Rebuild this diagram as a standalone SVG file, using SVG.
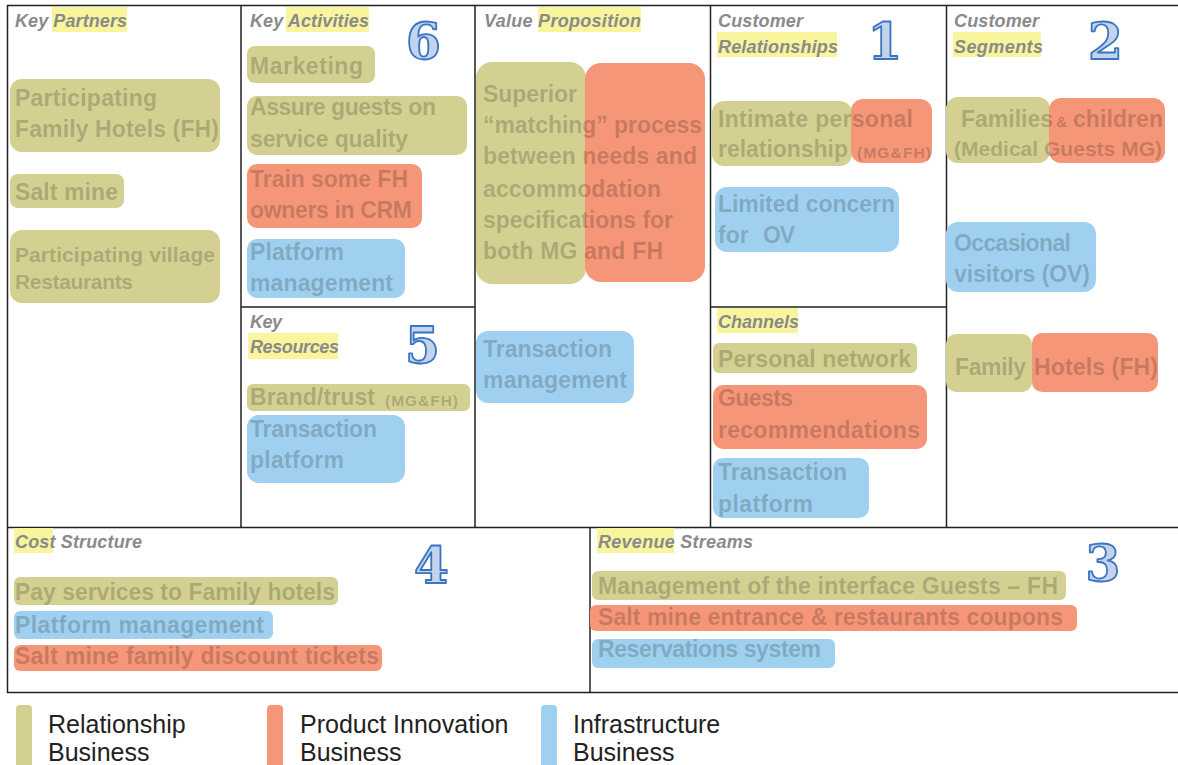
<svg xmlns="http://www.w3.org/2000/svg" width="1178" height="765" viewBox="0 0 1178 765">
  <style>
    .ttl { font-family: "Liberation Sans", Arial, sans-serif; font-style: italic; font-weight: bold; font-size: 18px; fill: #8a8a8a; }
    .bx { font-family: "Liberation Sans", Arial, sans-serif; font-weight: bold; font-size: 23px; fill: #000; fill-opacity: 0.2; }
    .sm { font-size: 15.5px; }
    .md { font-size: 21px; }
    .num { font-family: "DejaVu Serif", "Liberation Serif", serif; font-weight: bold; font-size: 50px; fill: #c3d3ec; stroke: #3a75c0; stroke-width: 1.8; stroke-linejoin: round; text-anchor: middle; }
    .lg { font-family: "Liberation Sans", Arial, sans-serif; font-size: 25px; fill: #222; }
    .hl { fill: #f8f59d; }
    .o { fill: #d3d092; }
    .r { fill: #f59678; }
    .b { fill: #9fd0ef; }
    .ln { stroke: #222; stroke-width: 1.5; fill: none; }
  </style>

  <rect width="1178" height="765" fill="#fff"/>

  <!-- canvas grid -->
  <g id="grid" class="ln">
    <path d="M7 5.5 H1178"/>
    <path d="M7.5 5 V693"/>
    <path d="M241 5 V527.5 M475 5 V527.5 M710.5 5 V527.5 M946.5 5 V527.5"/>
    <path d="M241 307 H475 M710.5 307 H946.5"/>
    <path d="M7 527.5 H1178"/>
    <path d="M7 692.5 H1178"/>
    <path d="M590 527.5 V692.5"/>
  </g>

  <!-- Key Partners -->
  <g id="key-partners">
    <rect class="hl" x="52" y="7" width="75" height="25"/>
    <text class="ttl" x="15" y="27" textLength="112">Key Partners</text>
    <rect class="o" x="10" y="79" width="210" height="73" rx="12"/>
    <text class="bx" x="15" y="106" textLength="142">Participating</text>
    <text class="bx" x="15" y="137" textLength="204">Family Hotels (FH)</text>
    <rect class="o" x="10" y="174" width="114" height="34" rx="8"/>
    <text class="bx" x="15" y="200" textLength="103">Salt mine</text>
    <rect class="o" x="10" y="230" width="210" height="73" rx="12"/>
    <text class="bx md" x="15" y="262" textLength="200">Participating village</text>
    <text class="bx md" x="15" y="289" textLength="118">Restaurants</text>
  </g>

  <!-- Key Activities -->
  <g id="key-activities">
    <rect class="hl" x="286" y="7" width="83" height="25"/>
    <text class="ttl" x="250" y="27" textLength="119">Key Activities</text>
    <text class="num" x="423.5" y="59">6</text>
    <rect class="o" x="247" y="46" width="128" height="37" rx="8"/>
    <text class="bx" x="250" y="74" textLength="113">Marketing</text>
    <rect class="o" x="247" y="96" width="220" height="59" rx="10"/>
    <text class="bx" x="250" y="115" textLength="186">Assure guests on</text>
    <text class="bx" x="250" y="147" textLength="158">service quality</text>
    <rect class="r" x="247" y="164" width="175" height="64" rx="10"/>
    <text class="bx" x="250" y="187" textLength="158">Train some FH</text>
    <text class="bx" x="250" y="218" textLength="162">owners in CRM</text>
    <rect class="b" x="247" y="239" width="158" height="59" rx="10"/>
    <text class="bx" x="250" y="260" textLength="94">Platform</text>
    <text class="bx" x="250" y="291" textLength="143">management</text>
  </g>

  <!-- Key Resources -->
  <g id="key-resources">
    <text class="ttl" x="250" y="328" textLength="32">Key</text>
    <rect class="hl" x="248" y="333" width="90" height="26"/>
    <text class="ttl" x="250" y="353" textLength="89">Resources</text>
    <text class="num" x="422.5" y="363">5</text>
    <rect class="o" x="247" y="384" width="223" height="27" rx="6"/>
    <text class="bx" x="250" y="405" textLength="125">Brand/trust</text>
    <text class="bx sm" x="385" y="406" textLength="73">(MG&amp;FH)</text>
    <rect class="b" x="247" y="415" width="158" height="68" rx="12"/>
    <text class="bx" x="250" y="437" textLength="127">Transaction</text>
    <text class="bx" x="250" y="468" textLength="94">platform</text>
  </g>

  <!-- Value Proposition -->
  <g id="value-proposition">
    <rect class="hl" x="538" y="7" width="103" height="25"/>
    <text class="ttl" x="484" y="27" textLength="157">Value Proposition</text>
    <rect class="o" x="476" y="62" width="110" height="222" rx="16"/>
    <rect class="r" x="585" y="63" width="120" height="219" rx="16"/>
    <text class="bx" x="483" y="102" textLength="94">Superior</text>
    <text class="bx" x="483" y="133" textLength="219">“matching” process</text>
    <text class="bx" x="483" y="164" textLength="214">between needs and</text>
    <text class="bx" x="483" y="197" textLength="178">accommodation</text>
    <text class="bx" x="483" y="228" textLength="190">specifications for</text>
    <text class="bx" x="483" y="259" textLength="180">both MG and FH</text>
    <rect class="b" x="476" y="331" width="158" height="72" rx="12"/>
    <text class="bx" x="483" y="357" textLength="129">Transaction</text>
    <text class="bx" x="483" y="388" textLength="144">management</text>
  </g>

  <!-- Customer Relationships -->
  <g id="customer-relationships">
    <text class="ttl" x="718" y="27" textLength="85">Customer</text>
    <rect class="hl" x="717" y="32" width="120" height="25"/>
    <text class="ttl" x="718" y="53" textLength="120">Relationships</text>
    <text class="num" x="885" y="59">1</text>
    <rect class="o" x="712" y="101" width="140" height="65" rx="12"/>
    <rect class="r" x="851" y="99" width="81" height="64" rx="12"/>
    <text class="bx" x="718" y="127" textLength="195">Intimate personal</text>
    <text class="bx" x="718" y="157" textLength="130">relationship</text>
    <text class="bx sm" x="857" y="158" textLength="74">(MG&amp;FH)</text>
    <rect class="b" x="715" y="187" width="184" height="65" rx="12"/>
    <text class="bx" x="718" y="212" textLength="177">Limited concern</text>
    <text class="bx" x="718" y="243">for</text>
    <text class="bx" x="763" y="243" textLength="32">OV</text>
  </g>

  <!-- Channels -->
  <g id="channels">
    <rect class="hl" x="717" y="308" width="81" height="25"/>
    <text class="ttl" x="718" y="328" textLength="81">Channels</text>
    <rect class="o" x="713" y="343" width="204" height="30" rx="6"/>
    <text class="bx" x="718" y="367" textLength="193">Personal network</text>
    <rect class="r" x="713" y="385" width="214" height="64" rx="10"/>
    <text class="bx" x="718" y="406" textLength="75">Guests</text>
    <text class="bx" x="718" y="438" textLength="202">recommendations</text>
    <rect class="b" x="713" y="458" width="156" height="60" rx="10"/>
    <text class="bx" x="718" y="480" textLength="129">Transaction</text>
    <text class="bx" x="718" y="512" textLength="95">platform</text>
  </g>

  <!-- Customer Segments -->
  <g id="customer-segments">
    <text class="ttl" x="954" y="27" textLength="85">Customer</text>
    <rect class="hl" x="953" y="32" width="88" height="25"/>
    <text class="ttl" x="954" y="53" textLength="89">Segments</text>
    <text class="num" x="1105.5" y="59">2</text>
    <rect class="o" x="946" y="97" width="104" height="66" rx="12"/>
    <rect class="r" x="1049" y="98" width="116" height="65" rx="12"/>
    <text class="bx" x="961" y="127" textLength="92">Families</text>
    <text class="bx sm" x="1056" y="127">&amp;</text>
    <text class="bx" x="1073" y="127" textLength="90">children</text>
    <text class="bx md" x="954" y="156" textLength="208">(Medical Guests MG)</text>
    <rect class="b" x="946" y="222" width="150" height="70" rx="12"/>
    <text class="bx" x="954" y="251" textLength="117">Occasional</text>
    <text class="bx" x="954" y="282" textLength="136">visitors (OV)</text>
    <rect class="o" x="946" y="334" width="86" height="58" rx="10"/>
    <rect class="r" x="1032" y="333" width="126" height="59" rx="10"/>
    <text class="bx" x="955" y="375" textLength="71">Family</text>
    <text class="bx" x="1034" y="375" textLength="124">Hotels (FH)</text>
  </g>

  <!-- Cost Structure -->
  <g id="cost-structure">
    <rect class="hl" x="14" y="528" width="39" height="25"/>
    <text class="ttl" x="15" y="548" textLength="127">Cost Structure</text>
    <text class="num" x="431.5" y="583">4</text>
    <rect class="o" x="14" y="577" width="324" height="28" rx="6"/>
    <text class="bx" x="15" y="600" textLength="320">Pay services to Family hotels</text>
    <rect class="b" x="14" y="611" width="259" height="28" rx="6"/>
    <text class="bx" x="15" y="633" textLength="249">Platform management</text>
    <rect class="r" x="14" y="645" width="368" height="26" rx="6"/>
    <text class="bx" x="15" y="664" textLength="364">Salt mine family discount tickets</text>
  </g>

  <!-- Revenue Streams -->
  <g id="revenue-streams">
    <rect class="hl" x="597" y="528" width="77" height="25"/>
    <text class="ttl" x="598" y="548" textLength="155">Revenue Streams</text>
    <text class="num" x="1103" y="581">3</text>
    <rect class="o" x="592" y="571" width="474" height="29" rx="6"/>
    <text class="bx" x="598" y="594" textLength="460">Management of the interface Guests – FH</text>
    <rect class="r" x="590" y="605" width="487" height="26" rx="6"/>
    <text class="bx" x="598" y="625" textLength="465">Salt mine entrance &amp; restaurants coupons</text>
    <rect class="b" x="592" y="639" width="243" height="29" rx="6"/>
    <text class="bx" x="598" y="657" textLength="223">Reservations system</text>
  </g>

  <!-- legend -->
  <g id="legend">
    <rect class="o" x="16" y="705" width="16" height="70" rx="4"/>
    <text class="lg" x="48" y="733">Relationship</text>
    <text class="lg" x="48" y="761">Business</text>
    <rect class="r" x="267" y="705" width="16" height="70" rx="4"/>
    <text class="lg" x="300" y="733">Product Innovation</text>
    <text class="lg" x="300" y="761">Business</text>
    <rect class="b" x="541" y="705" width="16" height="70" rx="4"/>
    <text class="lg" x="573" y="733">Infrastructure</text>
    <text class="lg" x="573" y="761">Business</text>
  </g>
</svg>
